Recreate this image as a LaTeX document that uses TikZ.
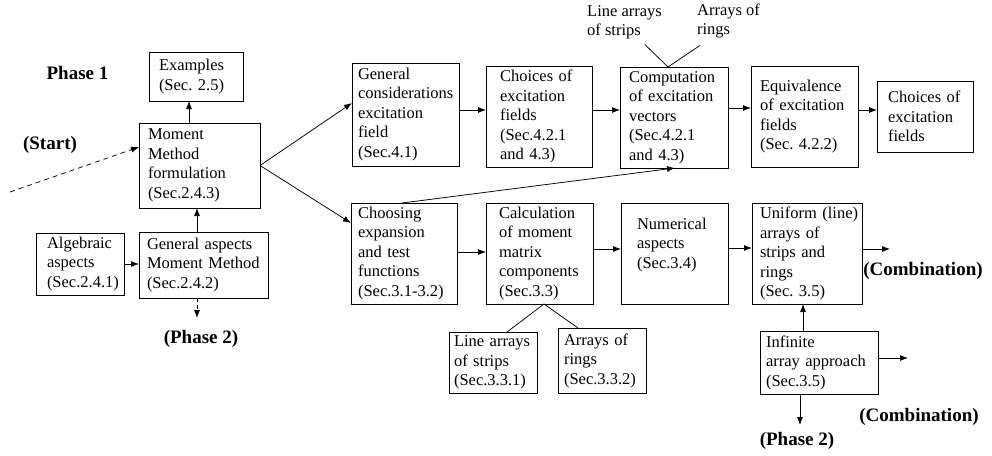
\documentclass[tikz,border=0pt]{standalone}
\usepackage{fontspec}
\setmainfont{Liberation Serif}
\usetikzlibrary{arrows.meta,calc}

\begin{document}
\begin{tikzpicture}[x=1pt,y=-1pt,
  every node/.style={inner sep=0pt, outer sep=0pt},
  box/.style={draw, line width=0.75pt, align=left,
              font=\fontsize{16.5}{19.5}\selectfont},
  lbl/.style={align=left, font=\fontsize{16.5}{19.5}\selectfont},
  tag/.style={anchor=base, font=\fontsize{19}{22}\selectfont\bfseries},
  arr/.style={line width=0.75pt, -{Latex[length=8pt,width=6pt]}},
  ln/.style={line width=0.75pt},
  dsh/.style={arr, dash pattern=on 5pt off 4pt}
]
% page area
\fill[white] (0,0) rectangle (992,455);
\useasboundingbox (0,0) rectangle (992,455);

% ---------- phase 1: formulation ----------
\node[box, minimum width=94pt, minimum height=49pt, inner xsep=10pt, text width=74pt]
  (ex) at (196,76.5) {Examples\\(Sec.~2.5)};
\node[box, minimum width=121pt, minimum height=85pt, inner xsep=9pt, text width=103pt]
  (mm) at (199.5,165.5) {Moment\\Method\\formulation\\(Sec.2.4.3)};
\node[box, minimum width=129pt, minimum height=66pt, inner xsep=8pt, text width=113pt]
  (ga) at (203.5,265) {General~aspects\\Moment~Method\\(Sec.2.4.2)};
\node[box, minimum width=88pt, minimum height=62pt, inner xsep=11pt, text width=66pt]
  (al) at (80,264) {Algebraic\\aspects\\(Sec.2.4.1)};

% ---------- excitation branch ----------
\node[box, minimum width=107pt, minimum height=103pt, inner xsep=6pt, text width=95pt]
  (gc) at (405.5,114.5) {General\\considerations\\excitation\\field\\(Sec.4.1)};
\node[box, minimum width=106pt, minimum height=101pt, inner xsep=14pt, text width=78pt]
  (cf) at (539,116.5) {Choices~of\\excitation\\fields\\(Sec.4.2.1\\and~4.3)};
\node[box, minimum width=108pt, minimum height=101pt, inner xsep=9pt, text width=90pt]
  (ce) at (674,117.5) {Computation\\of~excitation\\vectors\\(Sec.4.2.1\\and~4.3)};
\node[box, minimum width=107pt, minimum height=101pt, inner xsep=9pt, text width=89pt]
  (eq) at (804.5,116.5) {Equivalence\\of~excitation\\fields\\(Sec.~4.2.2)};
\node[box, minimum width=96pt, minimum height=71pt, inner xsep=11pt, text width=74pt]
  (cf2) at (925,116.5) {Choices~of\\excitation\\fields};

\node[lbl] (lla) at (624.5,22.5) {Line~arrays\\of~strips};
\node[lbl] (lar) at (728.5,21) {Arrays~of\\rings};

% ---------- moment matrix branch ----------
\node[box, minimum width=106pt, minimum height=101pt, inner xsep=7pt, text width=92pt]
  (ch) at (404,253.5) {Choosing\\expansion\\and~test\\functions\\(Sec.3.1-3.2)};
\node[box, minimum width=107pt, minimum height=101pt, inner xsep=13pt, text width=81pt]
  (ca) at (539.5,253.5) {Calculation\\of~moment\\matrix\\components\\(Sec.3.3)};
\node[draw, line width=0.75pt, minimum width=107pt, minimum height=101pt]
  (nu) at (674.5,253.5) {};
\node[lbl, anchor=west] (nutext) at (637,245) {Numerical\\aspects\\(Sec.3.4)};
\node[box, minimum width=110pt, minimum height=101pt, inner xsep=8pt, text width=94pt]
  (un) at (807,253.5) {Uniform~(line)\\arrays~of\\strips~and\\rings\\(Sec.~3.5)};

\node[box, minimum width=88pt, minimum height=61pt, inner xsep=5pt, text width=78pt]
  (la) at (493,362.5) {Line~arrays\\of~strips\\(Sec.3.3.1)};
\node[box, minimum width=88pt, minimum height=65pt, inner xsep=6pt, text width=76pt]
  (ar) at (602,360.5) {Arrays~of\\rings\\(Sec.3.3.2)};
\node[box, minimum width=118pt, minimum height=63pt, inner xsep=6pt, text width=106pt]
  (in) at (819,362.5) {Infinite\\array~approach\\(Sec.3.5)};

% ---------- bold tags ----------
\node[tag] (ph1) at (77.5,79) {Phase 1};
\node[tag] (st) at (50,149) {(Start)};
\node[tag] (p2a) at (201,343) {(Phase 2)};
\node[tag] (cb1) at (923,275) {(Combination)};
\node[tag] (cb2) at (919,421) {(Combination)};
\node[tag] (p2b) at (797,445) {(Phase 2)};

% free ends of connectors
\coordinate (startpt) at (10,192);
\coordinate (p2aend) at (197,318);
\coordinate (c1end) at (890,249);
\coordinate (c2end) at (908,358);
\coordinate (p2bend) at (800,425);

% ---------- connectors ----------
\draw[dsh] (startpt) -- ([yshift=18.5pt]mm.west);
\draw[arr] ([xshift=50pt]mm.north west) -- ([xshift=50pt]mm.north west |- ex.south);
\draw[arr] ([xshift=-6.5pt]ga.north) -- ([xshift=-6.5pt]ga.north |- mm.south);
\draw[arr] (al.east) -- (al.east -| ga.west);
\draw[dsh, dash pattern=on 4pt off 3pt] ([xshift=-6.5pt]ga.south) -- (p2aend);

\draw[arr] (mm.east) -- ([yshift=11.5pt]gc.west);
\draw[arr] (mm.east) -- ([yshift=30.5pt]ch.west);

\draw[arr] ([yshift=4.5pt]gc.east) -- ([yshift=4.5pt]gc.east -| cf.west);
\draw[arr] ([yshift=6.5pt]cf.east) -- ([yshift=6.5pt]cf.east -| ce.west);
\draw[arr] ([yshift=9.5pt]ce.east) -- ([yshift=9.5pt]ce.east -| eq.west);
\draw[arr] ([yshift=6.5pt]eq.east) -- ([yshift=6.5pt]eq.east -| cf2.west);

\draw[ln] ($(lla.south east)+(-17,5)$) -- ($(ce.north)+(-6,0)$);
\draw[ln] ($(lar.south west)+(3,7)$) -- ($(ce.north)+(-6,0)$);

\draw[arr] ([xshift=-2pt]ch.north) -- ([xshift=1pt]ce.south);

\draw[arr] ([yshift=1.5pt]ch.east) -- ([yshift=1.5pt]ch.east -| ca.west);
\draw[arr] ([yshift=4.5pt]ca.east) -- ([yshift=4.5pt]ca.east -| nu.west);
\draw[arr] ([yshift=5.5pt]nu.east) -- ([yshift=5.5pt]nu.east -| un.west);

\draw[ln] ($(ca.south)+(4.5,0)$) -- ($(la.north)+(14,0)$);
\draw[ln] ($(ca.south)+(4.5,0)$) -- ($(ar.north)+(-24,0)$);

\draw[arr] ([yshift=4.5pt]un.east) -- (c1end);
\draw[arr] ([xshift=-16pt]in.north) -- ([xshift=-16pt]in.north |- un.south);
\draw[arr] ([yshift=4.5pt]in.east) -- (c2end);
\draw[arr] ([xshift=-19pt]in.south) -- (p2bend);
\end{tikzpicture}
\end{document}
